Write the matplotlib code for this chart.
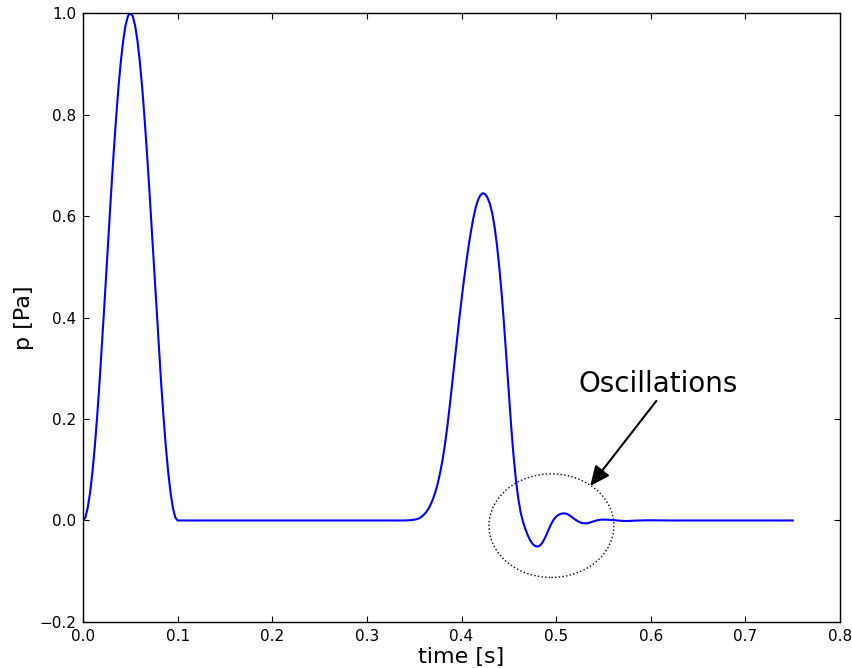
import numpy as np
import matplotlib
matplotlib.use("Agg")
import matplotlib.pyplot as plt
from matplotlib.patches import Ellipse

# pressure signal (time in s, p in Pa)
# first pulse
t1 = [0.0000, 0.0025, 0.0050, 0.0075, 0.0100, 0.0125, 0.0150, 0.0175, 0.0200, 0.0225,
      0.0250, 0.0275, 0.0300, 0.0325, 0.0350, 0.0375, 0.0400, 0.0425, 0.0450, 0.0475,
      0.0500, 0.0525, 0.0550, 0.0575, 0.0600, 0.0625, 0.0650, 0.0675, 0.0700, 0.0725,
      0.0750, 0.0775, 0.0800, 0.0825, 0.0850, 0.0875, 0.0900, 0.0925, 0.0950, 0.0975,
      0.1000]
p1 = [0.000, 0.006, 0.025, 0.055, 0.096, 0.146, 0.206, 0.273, 0.346, 0.422,
      0.500, 0.578, 0.655, 0.727, 0.794, 0.854, 0.905, 0.946, 0.976, 0.994,
      1.000, 0.994, 0.976, 0.946, 0.905, 0.854, 0.794, 0.727, 0.655, 0.578,
      0.500, 0.422, 0.346, 0.273, 0.206, 0.146, 0.096, 0.055, 0.025, 0.006,
      0.000]

# quiet stretch, second pulse and the ringing after it
t2 = [0.2000, 0.3000, 0.3400, 0.3450, 0.3500, 0.3525, 0.3550, 0.3575, 0.3600, 0.3625,
      0.3650, 0.3675, 0.3700, 0.3725, 0.3750, 0.3775, 0.3800, 0.3825, 0.3850, 0.3875,
      0.3900, 0.3925, 0.3950, 0.3975, 0.4000, 0.4025, 0.4050, 0.4075, 0.4100, 0.4125,
      0.4150, 0.4175, 0.4200, 0.4225, 0.4250, 0.4275, 0.4300, 0.4325, 0.4350, 0.4375,
      0.4400, 0.4425, 0.4450, 0.4475, 0.4500, 0.4525, 0.4550, 0.4575, 0.4600, 0.4625,
      0.4650, 0.4675, 0.4700, 0.4725, 0.4750, 0.4775, 0.4800, 0.4825, 0.4850, 0.4875,
      0.4900, 0.4925, 0.4950, 0.4975, 0.5000, 0.5025, 0.5050, 0.5075, 0.5100, 0.5125,
      0.5150, 0.5175, 0.5200, 0.5225, 0.5250, 0.5275, 0.5300, 0.5325, 0.5350, 0.5375,
      0.5400, 0.5425, 0.5450, 0.5475, 0.5500, 0.5550, 0.5600, 0.5650, 0.5700, 0.5750,
      0.5800, 0.5850, 0.5900, 0.5950, 0.6000, 0.6100, 0.6200, 0.7500]
p2 = [0.000, 0.000, 0.000, 0.0005, 0.0015, 0.0025, 0.004, 0.007, 0.011, 0.016,
      0.023, 0.032, 0.043, 0.057, 0.074, 0.095, 0.120, 0.150, 0.185, 0.225,
      0.267, 0.310, 0.353, 0.395, 0.435, 0.473, 0.508, 0.541, 0.570, 0.596,
      0.617, 0.632, 0.641, 0.645, 0.643, 0.636, 0.624, 0.605, 0.578, 0.542,
      0.497, 0.445, 0.385, 0.318, 0.250, 0.185, 0.127, 0.080, 0.043, 0.016,
      -0.003, -0.017, -0.029, -0.039, -0.046, -0.050, -0.0515, -0.050, -0.045, -0.037,
      -0.027, -0.016, -0.006, 0.002, 0.0075, 0.011, 0.0132, 0.014, 0.0138, 0.012,
      0.009, 0.0055, 0.002, -0.001, -0.0035, -0.005, -0.0056, -0.0055, -0.0045, -0.003,
      -0.0015, 0.000, 0.001, 0.0015, 0.0017, 0.0015, 0.0008, 0.000, -0.0008, -0.001,
      -0.0007, -0.0002, 0.0002, 0.0004, 0.0004, 0.0001, 0.000, 0.000]

time = t1 + t2
pres = p1 + p2

fig = plt.figure(figsize=(8.53, 6.68), dpi=100)
ax = fig.add_axes([0.0973, 0.0689, 0.8875, 0.9116])

ax.plot(time, pres, color="blue", lw=1.5)

# dotted ring round the ringing part
ring = Ellipse((0.495, -0.0102), 0.132, 0.204, fill=False, ls=":", lw=1.0, ec="black")
ax.add_patch(ring)

ax.annotate("Oscillations", xy=(0.536, 0.068), xytext=(0.524, 0.253),
            fontsize=20, ha="left", va="baseline",
            arrowprops=dict(arrowstyle="-|>,head_length=0.6,head_width=0.27",
                            mutation_scale=20, lw=1.5, fc="black", ec="black",
                            relpos=(0.5, 0.0), shrinkA=0, shrinkB=0))

ax.set_xlim(0, 0.8)
ax.set_ylim(-0.2, 1.0)
ax.set_xticks(np.arange(0, 0.81, 0.1))
ax.set_yticks(np.arange(-0.2, 1.01, 0.2))
ax.set_xticklabels(["0.0", "0.1", "0.2", "0.3", "0.4", "0.5", "0.6", "0.7", "0.8"])
ax.set_yticklabels(["\u22120.2", "0.0", "0.2", "0.4", "0.6", "0.8", "1.0"])
ax.tick_params(direction="in", top=True, right=True, length=4, width=0.8,
               labelsize=11, pad=5)
for s in ax.spines.values():
    s.set_linewidth(1.0)

ax.set_xlabel("time [s]", fontsize=16, labelpad=2)
ax.set_ylabel("p [Pa]", fontsize=16, labelpad=4)

fig.savefig("out.png", dpi=100)
